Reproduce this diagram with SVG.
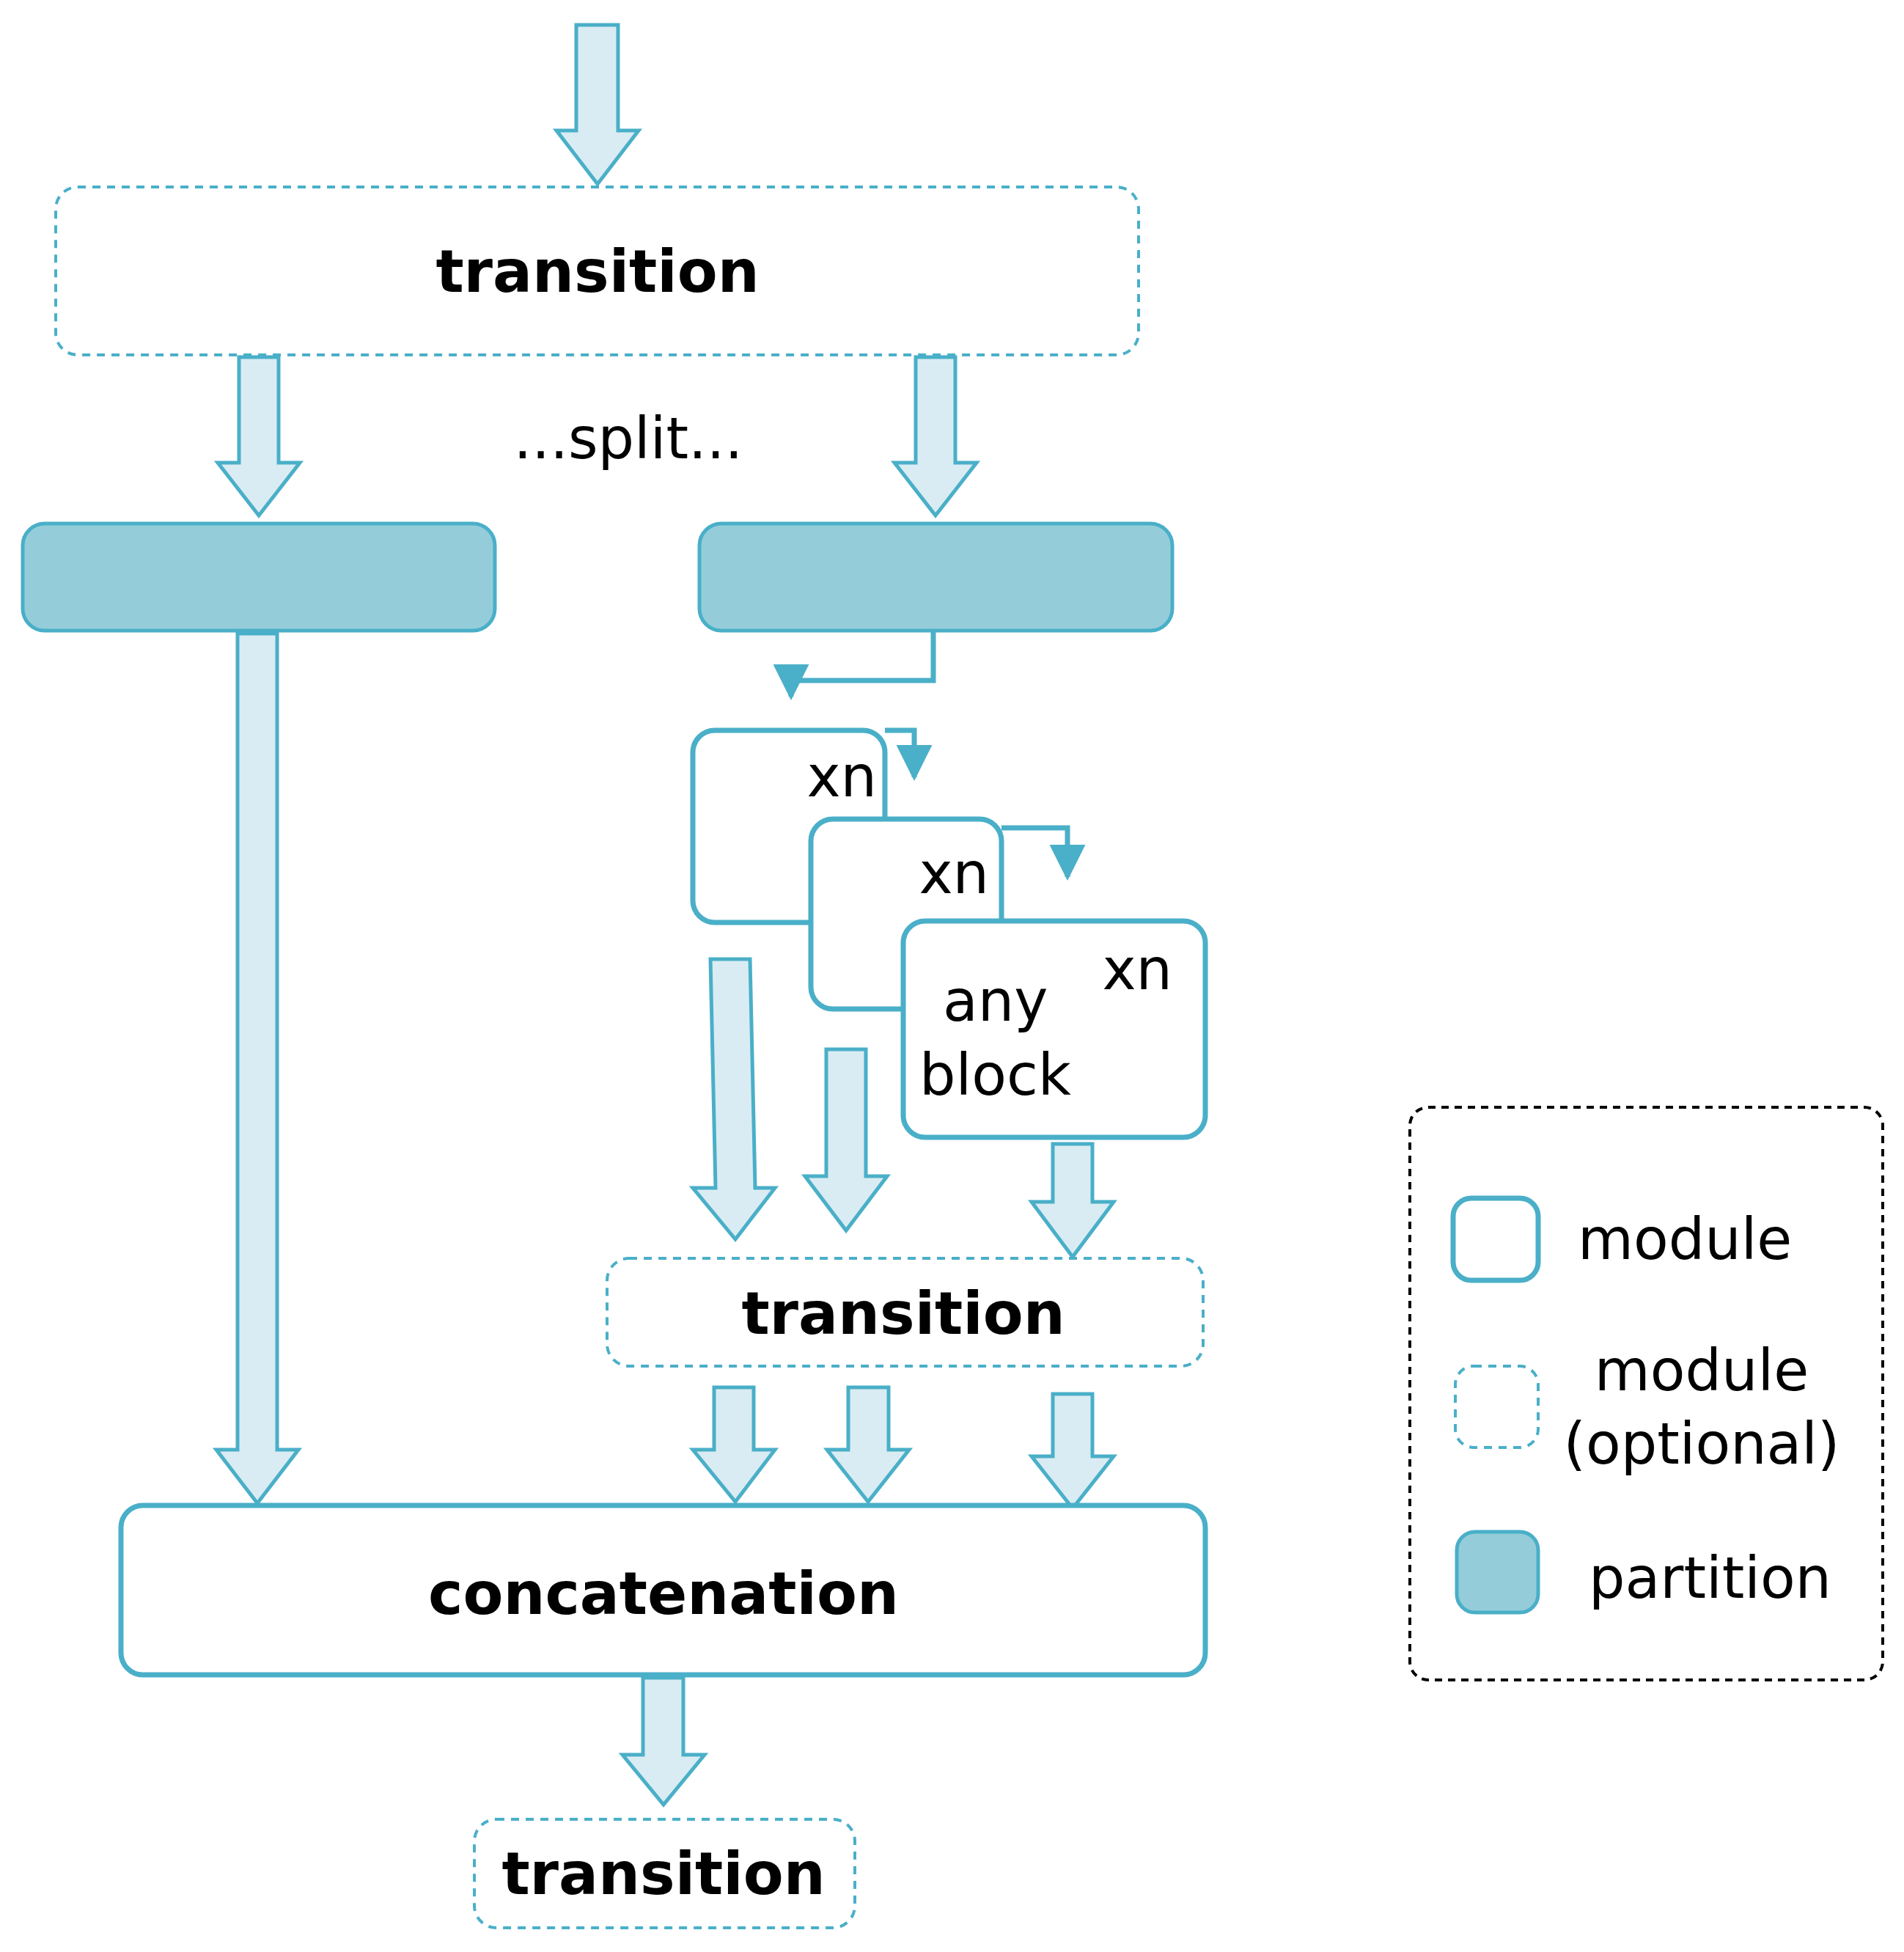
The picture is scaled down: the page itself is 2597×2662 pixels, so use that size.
<svg xmlns="http://www.w3.org/2000/svg" width="2597" height="2662" viewBox="0 0 2597 2662">
<defs>
<style>
.fat{fill:#daecf3;stroke:#4aafc8;stroke-width:5;stroke-linejoin:miter}
.mod{fill:#fff;stroke:#4aafc8;stroke-width:7}
.opt{fill:#fff;stroke:#4aafc8;stroke-width:4;stroke-dasharray:11 9}
.part{fill:#94cdd9;stroke:#4aafc8;stroke-width:5}
.ln{fill:none;stroke:#4aafc8;stroke-width:7}
.b{font-family:"DejaVu Sans",Verdana,sans-serif;font-weight:bold;font-size:80px;fill:#000;text-anchor:middle}
.r{font-family:"DejaVu Sans",Verdana,sans-serif;font-size:78px;fill:#000}
</style>
<marker id="ah" viewBox="0 0 10 10" refX="9" refY="5" markerWidth="7" markerHeight="7" markerUnits="strokeWidth" orient="auto"><path d="M0,0L10,5L0,10z" fill="#4aafc8"/></marker>
</defs>
<rect width="2597" height="2662" fill="#fff"/>
<g id="connectors">
<polygon class="fat" points="786,34 843,34 843,178 871,178 815,251 759,178 786,178"/>
<polygon class="fat" points="326,487 380,487 380,631 409,631 353,703 297,631 326,631"/>
<polygon class="fat" points="1249,487 1303,487 1303,631 1332,631 1276,703 1220,631 1249,631"/>
<polygon class="fat" points="324,864 378,864 378,1977 407,1977 351,2050 295,1977 324,1977"/>
<polygon class="fat" points="969,1308 1023,1308 1030,1620 1057,1620 1003,1690 945,1620 976,1620"/>
<polygon class="fat" points="1127,1431 1181,1431 1181,1604 1210,1604 1154,1678 1098,1604 1127,1604"/>
<polygon class="fat" points="1436,1560 1490,1560 1490,1639 1519,1639 1463,1714 1407,1639 1436,1639"/>
<polygon class="fat" points="974,1892 1028,1892 1028,1977 1057,1977 1003,2048 945,1977 974,1977"/>
<polygon class="fat" points="1157,1892 1212,1892 1212,1977 1240,1977 1184,2048 1128,1977 1157,1977"/>
<polygon class="fat" points="1436,1901 1490,1901 1490,1986 1519,1986 1463,2057 1407,1986 1436,1986"/>
<polygon class="fat" points="877,2288 932,2288 932,2393 961,2393 905,2461 849,2393 877,2393"/>
<polyline class="ln" points="1273,860 1273,928 1079,928 1079,950" marker-end="url(#ah)"/>
<polyline class="ln" points="1207,996 1247,996 1247,1060" marker-end="url(#ah)"/>
<polyline class="ln" points="1366,1129 1456,1129 1456,1196" marker-end="url(#ah)"/>
</g>
<g id="transition-top"><rect class="opt" x="76" y="255" width="1477" height="229" rx="30"/><text class="b" x="815" y="398">transition</text></g>
<text class="r" x="857" y="625" text-anchor="middle">...split...</text>
<g id="partition-left"><rect class="part" x="31" y="714" width="644" height="146" rx="30"/></g>
<g id="partition-right"><rect class="part" x="954" y="714" width="645" height="146" rx="30"/></g>
<g id="module1"><rect class="mod" x="945" y="996" width="262" height="262" rx="30"/><text class="r" x="1196" y="1086" text-anchor="end">xn</text></g>
<g id="module2"><rect class="mod" x="1106" y="1117" width="260" height="259" rx="30"/><text class="r" x="1349" y="1218" text-anchor="end">xn</text></g>
<g id="module3"><rect class="mod" x="1232" y="1256" width="412" height="295" rx="30"/><text class="r" x="1599" y="1349" text-anchor="end">xn</text><text class="r" x="1286" y="1392">any</text><text class="r" x="1254" y="1493">block</text></g>
<g id="transition-mid"><rect class="opt" x="828" y="1716" width="813" height="147" rx="30"/><text class="b" x="1232" y="1819">transition</text></g>
<g id="concatenation"><rect class="mod" x="165" y="2053" width="1479" height="231" rx="30"/><text class="b" x="905" y="2201">concatenation</text></g>
<g id="transition-bottom"><rect class="opt" x="647" y="2481" width="519" height="148" rx="30"/><text class="b" x="905" y="2583">transition</text></g>
<g id="legend">
<rect x="1923" y="1510" width="645" height="781" rx="25" fill="none" stroke="#000" stroke-width="4" stroke-dasharray="10 8"/>
<rect class="mod" x="1982" y="1634" width="116" height="112" rx="25"/>
<text class="r" x="2152" y="1717">module</text>
<rect class="opt" x="1985" y="1863" width="113" height="111" rx="25"/>
<text class="r" x="2321" y="1896" text-anchor="middle">module</text>
<text class="r" x="2321" y="1996" text-anchor="middle">(optional)</text>
<rect class="part" x="1987" y="2089" width="111" height="110" rx="25"/>
<text class="r" x="2167" y="2179">partition</text>
</g>
</svg>
